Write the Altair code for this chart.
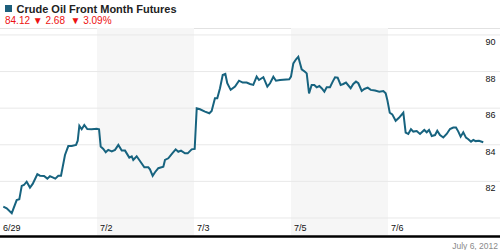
import json
import altair as alt
import pandas as pd

# ---- data (position along the 5 trading days, price) ----
day_labels = ["6/29", "7/2", "7/3", "7/5", "7/6"]
day_ticks = [0, 1, 2, 3, 4]
shaded_start = [1, 3]
shaded_end = [2, 4]
price_levels = [80, 82, 84, 86, 88, 90]
price_labels = [82, 84, 86, 88, 90]

t = [0.034, 0.069, 0.121, 0.172, 0.199, 0.224, 0.247, 0.275, 0.309, 0.337,
     0.385, 0.412, 0.454, 0.488, 0.515, 0.543, 0.570, 0.601, 0.629, 0.670,
     0.704, 0.739, 0.784, 0.801, 0.818, 0.842, 0.869, 0.900, 0.945, 0.997,
     1.021, 1.038, 1.065, 1.090, 1.116, 1.152, 1.186, 1.220, 1.255, 1.289,
     1.333, 1.358, 1.374, 1.409, 1.443, 1.488, 1.529, 1.546, 1.574, 1.598,
     1.632, 1.684, 1.701, 1.735, 1.776, 1.811, 1.838, 1.866, 1.907, 1.935,
     1.976, 2.007,
     2.028, 2.062, 2.113, 2.158, 2.182, 2.216, 2.240, 2.268, 2.296, 2.323,
     2.343, 2.378, 2.423, 2.464, 2.502, 2.543, 2.577, 2.611, 2.646, 2.670,
     2.715, 2.756, 2.784, 2.818, 2.845, 2.887, 2.982,
     3.000, 3.024, 3.052, 3.075, 3.093, 3.110, 3.144, 3.162, 3.186, 3.213,
     3.240, 3.265, 3.292, 3.316, 3.344, 3.368, 3.402, 3.430, 3.454, 3.481,
     3.512, 3.539, 3.567, 3.615, 3.642, 3.670, 3.694, 3.729, 3.756, 3.791,
     3.822, 3.866, 3.910, 3.952, 3.976, 3.993,
     4.018, 4.044, 4.079, 4.113, 4.158, 4.182, 4.209, 4.237, 4.261, 4.296,
     4.330, 4.374, 4.399, 4.423, 4.451, 4.485, 4.508, 4.536, 4.570, 4.605,
     4.639, 4.673, 4.701, 4.725, 4.749, 4.776, 4.804, 4.828, 4.856, 4.880,
     4.904, 4.938, 4.982]

price = [80.62, 80.53, 80.26, 80.98, 81.02, 81.75, 81.80, 81.98, 81.66, 81.86,
         82.39, 82.31, 82.30, 82.15, 82.28, 82.22, 82.15, 82.31, 82.31, 83.44,
         83.93, 83.93, 83.99, 84.22, 85.04, 84.85, 85.08, 84.86, 84.85, 84.88,
         84.85, 83.90, 83.77, 83.59, 83.72, 83.64, 83.72, 83.99, 83.68, 83.68,
         83.30, 83.37, 83.17, 83.37, 83.11, 82.77, 82.77, 82.66, 82.30, 82.50,
         82.72, 82.80, 83.17, 83.26, 83.53, 83.75, 83.62, 83.68, 83.53, 83.53,
         83.75, 83.77,
         85.99, 85.94, 85.81, 85.72, 85.85, 86.54, 86.54, 87.09, 87.81, 87.87,
         87.36, 87.00, 87.18, 87.50, 87.40, 87.40, 87.32, 87.27, 87.72, 87.54,
         87.69, 87.18, 87.36, 87.72, 87.50, 87.54, 87.58,
         87.72, 88.45, 88.67, 88.81, 88.45, 88.12, 87.99, 87.90, 86.81, 87.27,
         87.27, 87.14, 87.21, 87.09, 86.90, 87.14, 87.14, 87.45, 87.69, 87.67,
         87.27, 87.32, 87.40, 87.09, 87.32, 87.45, 87.36, 86.94, 87.05, 87.12,
         87.00, 86.96, 86.90, 86.94, 86.81, 86.45,
         85.75, 85.66, 85.31, 85.47, 85.75, 84.66, 84.59, 84.85, 84.72, 84.75,
         84.59, 84.81, 84.68, 84.81, 84.48, 84.53, 84.77, 84.53, 84.40, 84.59,
         84.86, 84.94, 84.94, 84.72, 84.44, 84.68, 84.39, 84.30, 84.17, 84.26,
         84.20, 84.22, 84.14]

title_text = "Crude Oil Front Month Futures"
quote_text = "84.12 \u25bc 2.68 \u00a0\u25bc 3.09%"
date_text = "July 6, 2012"

df = pd.DataFrame({"t": t, "price": price})
bands = pd.DataFrame({"start": shaded_start, "end": shaded_end})
levels = pd.DataFrame({"level": price_levels})

W, H = 500, 250
LINE = "#17637f"
FONT = "Liberation Sans"

xscale = alt.Scale(domain=[0, 500 / 97], nice=False, zero=False)
yscale = alt.Scale(domain=[78.25, 91.91], nice=False, zero=False)

label_expr = json.dumps(day_labels) + "[datum.value]"

xaxis = alt.Axis(
    orient="bottom", offset=-27, values=day_ticks, labelExpr=label_expr,
    labelAlign="left", labelBaseline="top", labelOffset=2.5,
    labelPadding=0, ticks=False, tickSize=0, domain=False, grid=False,
    labelOverlap=False, labelFlush=False, labelBound=False, zindex=1,
    labelFontSize=9, labelColor="#111", labelFont=FONT, title=None,
)
yaxis = alt.Axis(
    orient="right", offset=-15, values=price_labels,
    labelAlign="left", labelBaseline="top", labelOffset=2.5,
    labelPadding=0, ticks=False, tickSize=0, domain=False, grid=False,
    labelOverlap=False, labelFlush=False, labelBound=False, zindex=1,
    labelFontSize=9, labelColor="#111", labelFont=FONT, title=None,
)

one = pd.DataFrame({"k": [0]})

top_border = alt.Chart(one).mark_rule(
    color="#e2e2e2", strokeWidth=1
).encode(x=alt.value(0), x2=alt.value(W), y=alt.value(28.5))

band_layer = alt.Chart(bands).mark_rect(color="#f6f6f6").encode(
    x=alt.X("start:Q", scale=xscale, axis=xaxis),
    x2="end:Q",
    y=alt.value(28),
    y2=alt.value(235),
)

grid_layer = alt.Chart(levels).mark_rule(color="#e8e8e8", strokeWidth=1).encode(
    y=alt.Y("level:Q", scale=yscale, axis=yaxis),
    x=alt.value(0),
    x2=alt.value(W),
)

line_layer = alt.Chart(df).mark_line(color=LINE, strokeWidth=2).encode(
    x=alt.X("t:Q", scale=xscale, axis=xaxis),
    y=alt.Y("price:Q", scale=yscale, axis=yaxis),
)

bottom_rule = alt.Chart(one).mark_rule(
    color="#000", strokeWidth=2.5
).encode(x=alt.value(0), x2=alt.value(W), y=alt.value(236.5))

square = alt.Chart(one).mark_rect(color="#1d5f7c").encode(
    x=alt.value(5), x2=alt.value(12), y=alt.value(5), y2=alt.value(12)
)

title_layer = alt.Chart(pd.DataFrame({"s": [title_text]})).mark_text(
    align="left", baseline="alphabetic", font=FONT, fontSize=11,
    fontWeight="bold", color="#222"
).encode(text="s:N", x=alt.value(16.5), y=alt.value(12.5))

quote_layer = alt.Chart(pd.DataFrame({"s": [quote_text]})).mark_text(
    align="left", baseline="alphabetic", font=FONT, fontSize=10, color="#ee1111"
).encode(text="s:N", x=alt.value(5), y=alt.value(24))

date_layer = alt.Chart(pd.DataFrame({"s": [date_text]})).mark_text(
    align="right", baseline="alphabetic", font=FONT, fontSize=8.5, color="#8a8a8a"
).encode(text="s:N", x=alt.value(498), y=alt.value(248.5))

chart = alt.layer(
    top_border, band_layer, grid_layer, line_layer, bottom_rule,
    square, title_layer, quote_layer, date_layer,
).properties(
    width=W, height=H, autosize=alt.AutoSizeParams(type="none"), padding=0,
    background="white",
).configure_view(stroke=None)

chart.save("out.html", embed_options={"renderer": "svg", "actions": False})
